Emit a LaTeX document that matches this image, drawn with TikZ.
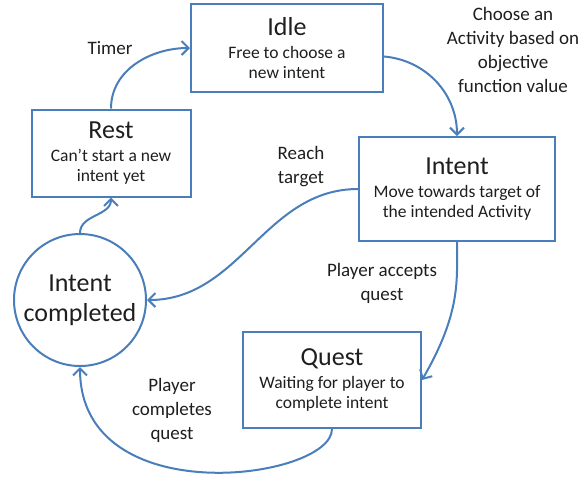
\documentclass[tikz,border=0pt]{standalone}
\usepackage{fontspec}
\setmainfont{Carlito}
\usetikzlibrary{arrows,arrows.meta}
\definecolor{boxblue}{RGB}{74,126,187}
\definecolor{inkgrey}{RGB}{30,30,30}

\tikzset{
  activity/.style = {draw=boxblue, line width=1pt, align=center, inner sep=0pt,
    text=inkgrey, font=\fontsize{8.75}{10}\selectfont},
  done/.style = {circle, draw=boxblue, line width=1pt, align=center, inner sep=0pt,
    text=inkgrey, minimum size=66pt, font=\fontsize{13}{15}\selectfont},
  trans/.style = {draw=boxblue, line width=1pt},
  lbl/.style = {align=center, text=inkgrey, font=\fontsize{9.5}{12}\selectfont}
}
\newcommand{\stname}[1]{{\fontsize{13}{13}\selectfont #1}\\[1.5pt]}

\begin{document}
\begin{tikzpicture}[x=0.5pt, y=-0.5pt, >={Straight Barb[length=3.5pt,width=7pt]}]
\useasboundingbox (0,0) rectangle (585,479);
\node[activity, minimum width=96pt, minimum height=44pt] (idle) at (287,48) {\stname{Idle}Free to choose a\\new intent};
\node[activity, minimum width=79.5pt, minimum height=43.5pt] (rest) at (111,153) {\stname{Rest}Can't start a new\\intent yet};
\node[activity, minimum width=98pt, minimum height=52pt] (intent) at (457,189) {\stname{Intent}Move towards target of\\the intended Activity};
\node[activity, minimum width=89pt, minimum height=48pt] (quest) at (332,380) {\stname{Quest}Waiting for player to\\complete intent};
\node[done] (completed) at (80,300) {Intent\\completed};

\node[lbl] (timer) at (110,48) {Timer};
\node[lbl] (choose) at (513,50) {Choose an\\Activity based on\\objective\\function value};
\node[lbl] (reach) at (301,167) {Reach\\target};
\node[lbl] (accepts) at (382,283) {Player accepts\\quest};
\node[lbl] (completes) at (172,410) {Player\\completes\\quest};

\path[->, trans] (rest) edge [out=90, in=180] (idle)
    (idle) edge [out=-5, in=90] (intent)
    (intent) edge [out=180, in=0] (completed)
    (intent) edge [out=-90, in=60, out looseness=0.7, in looseness=1.4] (quest.east)
    (quest) edge [out=-90, in=-90, out looseness=0.5, in looseness=1.45] (completed)
    (completed) edge [out=90, in=-90] (rest);
\end{tikzpicture}
\end{document}
